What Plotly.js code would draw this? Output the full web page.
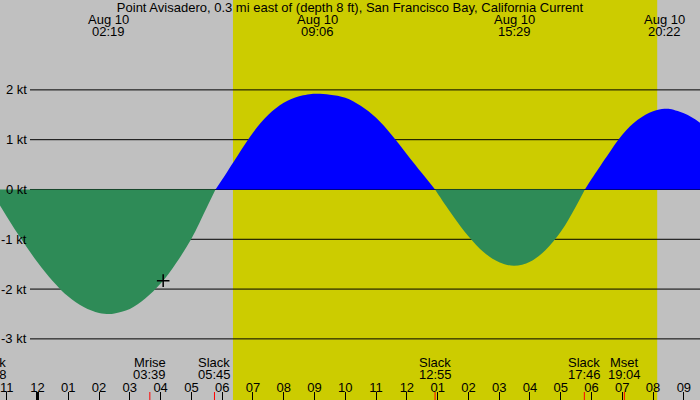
<!DOCTYPE html>
<html>
<head>
<meta charset="utf-8">
<script src="https://cdn.plot.ly/plotly-3.0.1.min.js"></script>
<style>
  html, body { margin: 0; padding: 0; background: #c0c0c0; }
  #chart { width: 700px; height: 400px; }
</style>
</head>
<body>
<div id="chart"></div>
<script>
// ── Datos ───────────────────────────────────────────────────────────────
const titleText = 'Point Avisadero, 0.3 mi east of (depth 8 ft), San Francisco Bay, California Current';

const curveTimes = [
  '2024-08-09 22:28', '2024-08-09 23:00', '2024-08-09 23:30',
  '2024-08-10 00:00', '2024-08-10 00:30', '2024-08-10 01:00', '2024-08-10 01:30',
  '2024-08-10 02:00', '2024-08-10 02:19', '2024-08-10 02:30', '2024-08-10 03:00',
  '2024-08-10 03:30', '2024-08-10 04:00', '2024-08-10 04:30', '2024-08-10 05:00',
  '2024-08-10 05:30', '2024-08-10 05:47', '2024-08-10 06:00', '2024-08-10 06:30',
  '2024-08-10 07:00', '2024-08-10 07:30', '2024-08-10 08:00', '2024-08-10 08:30',
  '2024-08-10 09:00', '2024-08-10 09:06', '2024-08-10 09:30', '2024-08-10 10:00',
  '2024-08-10 10:30', '2024-08-10 11:00', '2024-08-10 11:30', '2024-08-10 12:00',
  '2024-08-10 12:30', '2024-08-10 12:55', '2024-08-10 13:00', '2024-08-10 13:30',
  '2024-08-10 14:00', '2024-08-10 14:30', '2024-08-10 15:00', '2024-08-10 15:29',
  '2024-08-10 16:00', '2024-08-10 16:30', '2024-08-10 17:00', '2024-08-10 17:30',
  '2024-08-10 17:47', '2024-08-10 18:00', '2024-08-10 18:30', '2024-08-10 19:00',
  '2024-08-10 19:30', '2024-08-10 20:00', '2024-08-10 20:22', '2024-08-10 20:30',
  '2024-08-10 21:00', '2024-08-10 21:30', '2024-08-10 22:00'
];
const currentKt = [
  0, -0.54, -1.02,
  -1.46, -1.84, -2.15, -2.36,
  -2.48, -2.50, -2.49, -2.40,
  -2.19, -1.89, -1.48, -0.99,
  -0.36, 0, 0.20, 0.68,
  1.14, 1.50, 1.74, 1.87,
  1.92, 1.92, 1.90, 1.84,
  1.68, 1.44, 1.10, 0.71,
  0.32, 0, -0.08, -0.53,
  -0.94, -1.26, -1.46, -1.53,
  -1.45, -1.22, -0.85, -0.33,
  0, 0.21, 0.67, 1.10,
  1.40, 1.57, 1.62, 1.62,
  1.53, 1.35, 1.08
];

// máximos de corriente (arriba)
const peakTimes = ['2024-08-10 02:19', '2024-08-10 09:06', '2024-08-10 15:29', '2024-08-10 20:22'];
const peakDay   = ['Aug 10', 'Aug 10', 'Aug 10', 'Aug 10'];
const peakClock = ['02:19', '09:06', '15:29', '20:22'];

// eventos (abajo)
const eventTimes = ['2024-08-09 22:28', '2024-08-10 03:39', '2024-08-10 05:45',
                    '2024-08-10 12:55', '2024-08-10 17:46', '2024-08-10 19:04'];
const eventNames = ['Slack', 'Mrise', 'Slack', 'Slack', 'Slack', 'Mset'];
const eventClock = ['22:28', '03:39', '05:45', '12:55', '17:46', '19:04'];

const sunrise  = '2024-08-10 06:21';
const sunset   = '2024-08-10 20:08';
const midnight = '2024-08-10 00:00';

const nowTime = ['2024-08-10 04:05'];
const nowKt   = [-1.83];

const ktTicks = [2, 1, 0, -1, -2, -3];

const xRange = ['2024-08-09 22:46:54', '2024-08-10 21:31:26'];
const yRange = [-4.227, 3.805];

// ── Colores / fuente ────────────────────────────────────────────────────
const GRAY   = '#c0c0c0';
const YELLOW = '#cccc00';
const FLOOD  = '#0000ff';
const EBB    = '#2e8b57';
const font   = { family: 'Liberation Sans, Arial, sans-serif', size: 13, color: '#000' };

const NAME_Y  = 0.0945;
const CLOCK_Y = 0.0645;

// ── Separar la curva en tramos de flujo / reflujo ───────────────────────
const segments = [];
let cur = { t: [curveTimes[0]], v: [currentKt[0]] };
for (let i = 1; i < curveTimes.length; i++) {
  cur.t.push(curveTimes[i]);
  cur.v.push(currentKt[i]);
  if (currentKt[i] === 0 && i < curveTimes.length - 1) {
    segments.push(cur);
    cur = { t: [curveTimes[i]], v: [0] };
  }
}
segments.push(cur);

const traces = segments.map(s => {
  const flood = s.v.some(v => v > 0);
  return {
    type: 'scatter',
    mode: 'lines',
    x: s.t,
    y: s.v,
    fill: 'tozeroy',
    fillcolor: flood ? FLOOD : EBB,
    line: { width: 0, shape: 'spline', smoothing: 1, color: flood ? FLOOD : EBB },
    hoverinfo: 'skip'
  };
});

traces.push({
  type: 'scatter',
  mode: 'markers',
  x: nowTime,
  y: nowKt,
  marker: { symbol: 'cross-thin', size: 9, line: { width: 1.5, color: '#000' } },
  hoverinfo: 'skip'
});

// ── Formas: luz del día, líneas de nudos, marcas ────────────────────────
const shapes = [{
  type: 'rect', layer: 'below', xref: 'x', yref: 'paper',
  x0: sunrise, x1: sunset, y0: 0, y1: 1,
  fillcolor: YELLOW, line: { width: 0 }
}];

ktTicks.forEach(k => shapes.push({
  type: 'line', layer: 'below', xref: 'paper', yref: 'y',
  x0: 30 / 700, x1: 1, y0: k, y1: k,
  line: { color: '#000', width: 1 }
}));

eventTimes.forEach(t => shapes.push({
  type: 'line', xref: 'x', yref: 'paper',
  x0: t, x1: t, y0: 0, y1: 8 / 400,
  line: { color: '#ff0000', width: 1 }
}));

shapes.push({
  type: 'line', xref: 'x', yref: 'paper',
  x0: midnight, x1: midnight, y0: 0, y1: 8 / 400,
  line: { color: '#000', width: 3 }
});

// ── Textos ──────────────────────────────────────────────────────────────
const annotations = [];

ktTicks.forEach(k => annotations.push({
  xref: 'paper', yref: 'y', x: 29 / 700, y: k,
  xanchor: 'right', yanchor: 'middle',
  text: k + ' kt', showarrow: false, font
}));

peakTimes.forEach((t, i) => {
  annotations.push({ xref: 'x', yref: 'paper', x: t, y: 0.952, text: peakDay[i],
    showarrow: false, xanchor: 'center', yanchor: 'middle', font });
  annotations.push({ xref: 'x', yref: 'paper', x: t, y: 0.921, text: peakClock[i],
    showarrow: false, xanchor: 'center', yanchor: 'middle', font });
});

const layout = {
  width: 700,
  height: 400,
  margin: { t: 0, b: 0, l: 0, r: 0, pad: 0 },
  paper_bgcolor: GRAY,
  plot_bgcolor: GRAY,
  font,
  showlegend: false,
  title: { text: titleText, x: 0.5, xanchor: 'center', y: 0.982, yanchor: 'middle', font },
  xaxis: {
    type: 'date',
    range: xRange,
    showgrid: false,
    zeroline: false,
    showline: false,
    ticks: 'inside',
    ticklen: 8,
    tickwidth: 1,
    tickcolor: '#000',
    tick0: midnight,
    dtick: 3600000,
    tickformat: '%I',
    ticklabelposition: 'inside',
    ticklabeloverflow: 'allow',
    ticklabelstandoff: -3,
    tickfont: font,
    fixedrange: true
  },
  yaxis: {
    range: yRange,
    showgrid: false,
    zeroline: false,
    showline: false,
    showticklabels: false,
    ticks: '',
    fixedrange: true
  },
  shapes,
  annotations
};

const gd = document.getElementById('chart');
Plotly.newPlot(gd, traces, layout, { displayModeBar: false, staticPlot: true }).then(() => {
  // Las etiquetas de eventos se colocan con la escala del eje x de Plotly,
  // en coordenadas de papel, para que las que caen fuera del rango se vean cortadas.
  const xa = gd._fullLayout.xaxis;
  const evAnn = [];
  eventTimes.forEach((t, i) => {
    const fx = xa.l2p(xa.d2l(t)) / xa._length;
    evAnn.push({ xref: 'paper', yref: 'paper', x: fx, y: NAME_Y, text: eventNames[i],
      showarrow: false, xanchor: 'center', yanchor: 'middle', font });
    evAnn.push({ xref: 'paper', yref: 'paper', x: fx, y: CLOCK_Y, text: eventClock[i],
      showarrow: false, xanchor: 'center', yanchor: 'middle', font });
  });
  return Plotly.relayout(gd, { annotations: annotations.concat(evAnn) });
});
</script>
</body>
</html>
